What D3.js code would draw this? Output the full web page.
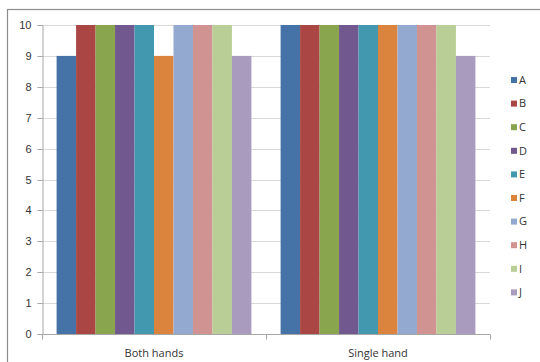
<!DOCTYPE html>
<html>
<head>
<meta charset="utf-8">
<script src="https://cdn.jsdelivr.net/npm/d3@7"></script>
<style>
  html, body { margin: 0; padding: 0; background: #fff; }
  svg { display: block; font-family: "Open Sans", "Liberation Sans", sans-serif; }
</style>
</head>
<body>
<svg id="chart" width="540" height="362"></svg>
<script>
const categories = ["Both hands", "Single hand"];
const seriesNames = ["A", "B", "C", "D", "E", "F", "G", "H", "I", "J"];
const bothHands = [9, 10, 10, 10, 10, 9, 10, 10, 10, 9];
const singleHand = [10, 10, 10, 10, 10, 10, 10, 10, 10, 9];
const colors = ["#4572A7", "#AA4643", "#89A54E", "#71588F", "#4198AF",
                "#DB843D", "#93A9CF", "#D19392", "#B9CD96", "#A99BBD"];
const yTicks = [0, 1, 2, 3, 4, 5, 6, 7, 8, 9, 10];

const valuesByCategory = [bothHands, singleHand];

const svg = d3.select("#chart");

// outer chart border
svg.append("rect")
  .attr("x", 7.5).attr("y", 9.5)
  .attr("width", 540).attr("height", 360)
  .attr("fill", "none").attr("stroke", "#8c8c8c").attr("stroke-width", 1.2);

const plot = { left: 42, right: 490, top: 25, bottom: 334 };

const y = d3.scaleLinear().domain([0, 10]).range([plot.bottom, plot.top]);
const x0 = d3.scaleBand().domain(categories).range([plot.left, plot.right]).padding(0);
const bw = x0.bandwidth() / (seriesNames.length + 1.5);
const x1 = d3.scaleBand().domain(seriesNames)
  .range([0.75 * bw, x0.bandwidth() - 0.75 * bw]).padding(0);

// gridlines
svg.append("g")
  .selectAll("line").data(yTicks.filter(d => d > 0)).join("line")
  .attr("x1", plot.left).attr("x2", plot.right)
  .attr("y1", d => Math.round(y(d)) + 0.5).attr("y2", d => Math.round(y(d)) + 0.5)
  .attr("stroke", "#d9d9d9").attr("stroke-width", 1);

// bars
const groups = svg.append("g").selectAll("g").data(categories).join("g")
  .attr("transform", d => `translate(${x0(d)},0)`);
groups.selectAll("rect")
  .data((c, i) => seriesNames.map((s, j) => ({ s, j, v: valuesByCategory[i][j] })))
  .join("rect")
  .attr("x", d => x1(d.s))
  .attr("width", x1.bandwidth())
  .attr("y", d => y(d.v))
  .attr("height", d => y(0) - y(d.v))
  .attr("fill", d => colors[d.j]);

// y axis
const yAxis = d3.axisLeft(y).tickValues(yTicks).tickSize(5).tickPadding(6).tickFormat(d3.format("d"));
const gy = svg.append("g").attr("transform", `translate(${plot.left + 0.5},0)`).call(yAxis);
gy.select(".domain").attr("stroke", "#a6a6a6");
gy.selectAll(".tick line").attr("stroke", "#a6a6a6");
gy.selectAll(".tick text").attr("fill", "#333").style("font-size", "11px");
gy.selectAll(".tick").attr("transform", d => `translate(0,${Math.round(y(d)) + 0.5})`);

// x axis
const gx = svg.append("g").attr("transform", `translate(0,${plot.bottom + 0.5})`);
gx.append("line").attr("x1", plot.left).attr("x2", plot.right)
  .attr("stroke", "#a6a6a6");
const sepTicks = [plot.left, ...categories.map(c => x0(c) + x0.bandwidth())];
gx.selectAll("line.sep").data(sepTicks).join("line").attr("class", "sep")
  .attr("x1", d => Math.round(d) + 0.5).attr("x2", d => Math.round(d) + 0.5)
  .attr("y1", 0).attr("y2", 5).attr("stroke", "#a6a6a6");
gx.selectAll("text").data(categories).join("text")
  .attr("x", d => x0(d) + x0.bandwidth() / 2)
  .attr("y", 22)
  .attr("text-anchor", "middle")
  .attr("fill", "#333").style("font-size", "11px")
  .text(d => d);

// legend
const legend = svg.append("g").selectAll("g").data(seriesNames).join("g")
  .attr("transform", (d, i) => `translate(511,${80 + i * 23.6})`);
legend.append("rect").attr("x", 0).attr("y", -3).attr("width", 6).attr("height", 6)
  .attr("fill", (d, i) => colors[i]);
legend.append("text").attr("x", 8).attr("y", 0).attr("dy", "0.35em")
  .attr("fill", "#333").style("font-size", "11px").text(d => d);
</script>
</body>
</html>
